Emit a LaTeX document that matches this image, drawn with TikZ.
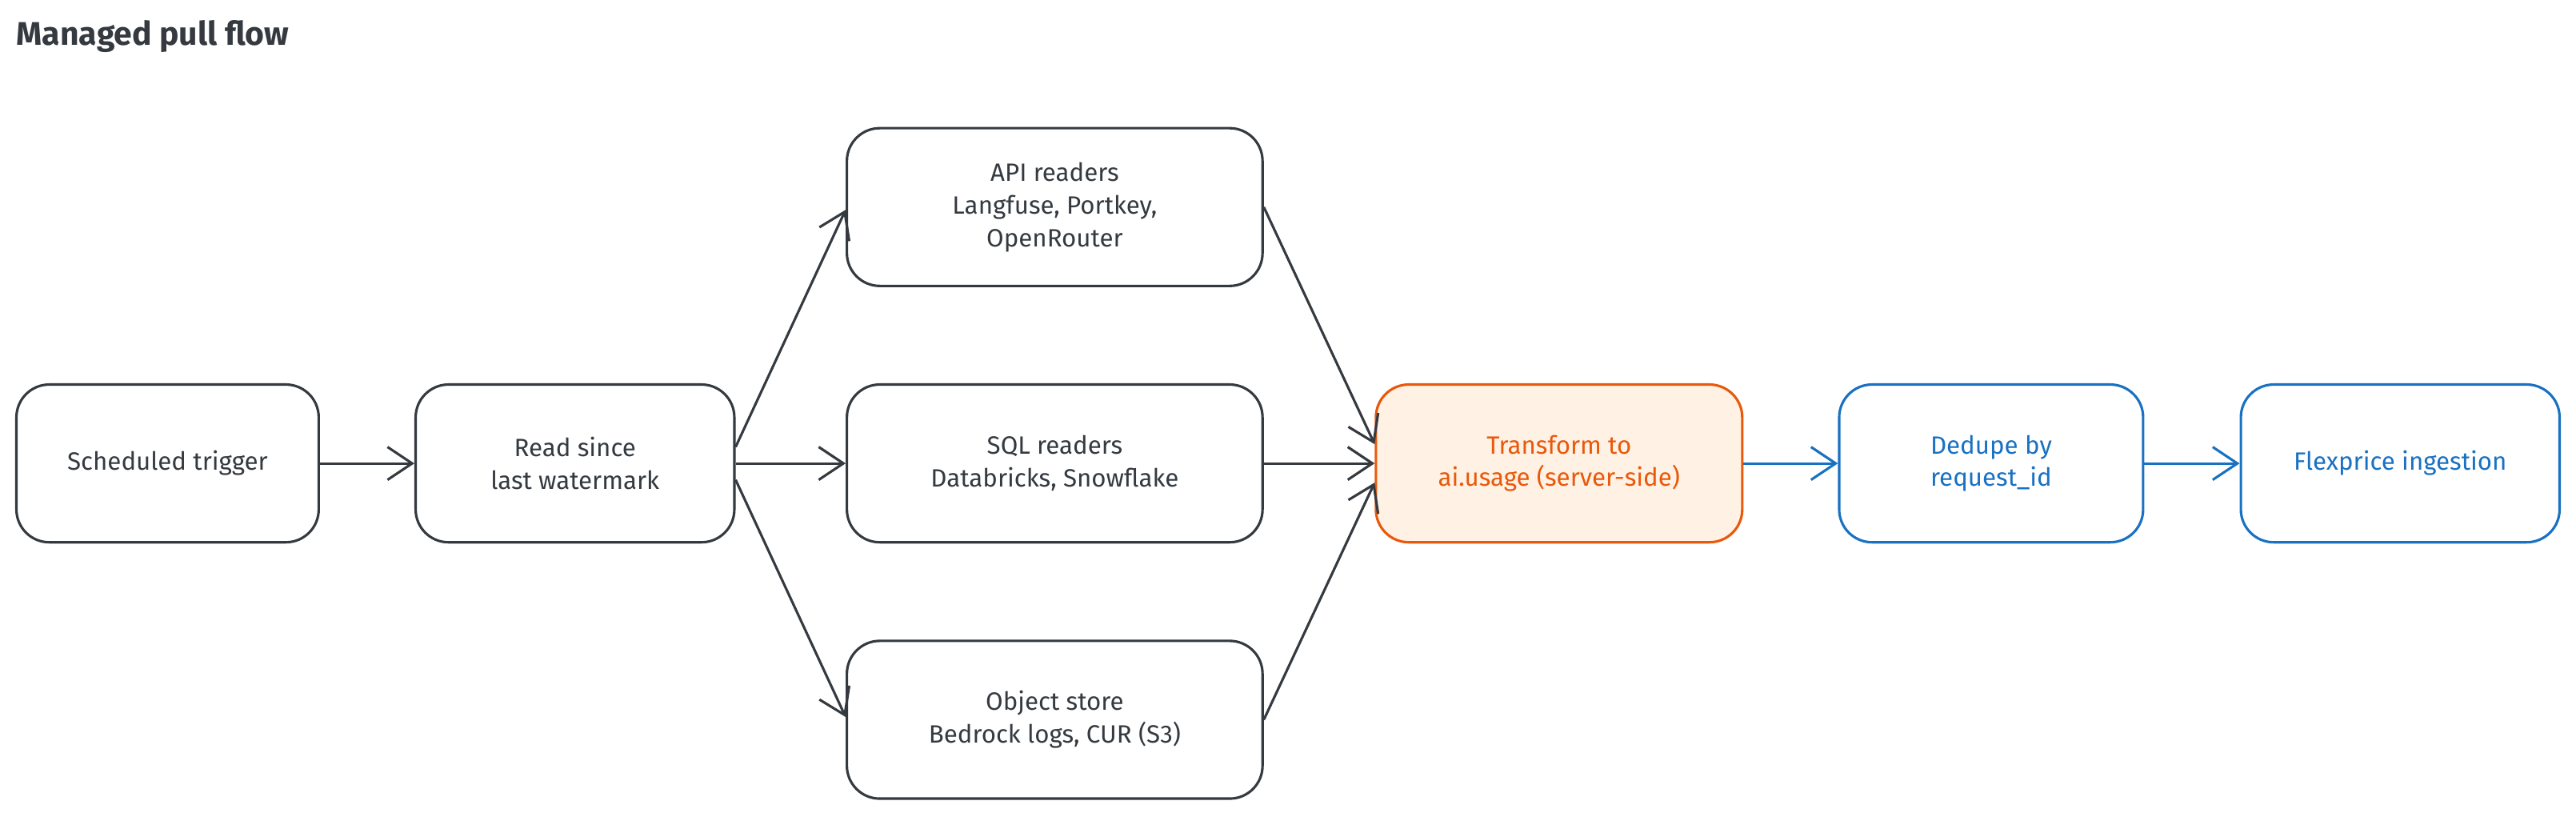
\documentclass[tikz,border=0pt]{standalone}
\usepackage{fontspec}
\setmainfont{Fira Sans}
\usetikzlibrary{arrows.meta}
\definecolor{ink}{HTML}{343A40}
\definecolor{orng}{HTML}{E8590C}
\definecolor{orngfill}{HTML}{FFF1E3}
\definecolor{blu}{HTML}{1971C2}
\tikzset{
  stage/.style={draw=ink, rounded corners=0.6cm, line width=1.3pt, align=center,
    text=ink, minimum height=2.88cm, font=\fontsize{13}{17}\selectfont},
  flow/.style={-{Straight Barb[length=0.45cm,width=0.6cm]}, line width=1.3pt, draw=ink},
}
\begin{document}
\begin{tikzpicture}[x=0.03cm, y=-0.03cm]
    \useasboundingbox (0,0) rectangle (1568,497);
    % Title
    \node[anchor=west, text=ink, font=\fontsize{17}{20}\selectfont\bfseries] (title) at (6,22) {Managed pull flow};

    % Pipeline stages
    \node[stage, minimum width=5.52cm] (trigger) at (102,282) {Scheduled trigger};
    \node[stage, minimum width=5.82cm] (read) at (350,282) {Read since\\last watermark};
    \node[stage, minimum width=7.59cm] (api) at (642,126) {API readers\\Langfuse, Portkey,\\OpenRouter};
    \node[stage, minimum width=7.59cm] (sql) at (642,282) {SQL readers\\Databricks, Snowflake};
    \node[stage, minimum width=7.59cm] (object) at (642,438) {Object store\\Bedrock logs, CUR (S3)};
    \node[stage, draw=orng, fill=orngfill, text=orng, minimum width=6.69cm] (transform) at (949,282) {Transform to\\ai.usage (server-side)};
    \node[stage, draw=blu, text=blu, minimum width=5.55cm] (dedupe) at (1212,282) {Dedupe by\\request\_id};
    \node[stage, draw=blu, text=blu, minimum width=5.82cm] (ingest) at (1461,282) {Flexprice ingestion};

    % Arrows
    \draw[flow] (trigger) -- (read);
    \draw[flow] ([yshift=0.3cm]read.east) -- ([yshift=-0.05cm]api.west);
    \draw[flow] (read) -- (sql);
    \draw[flow] ([yshift=-0.3cm]read.east) -- ([yshift=0.05cm]object.west);
    \draw[flow] (api.east) -- ([yshift=0.35cm]transform.west);
    \draw[flow] (sql) -- (transform);
    \draw[flow] (object.east) -- ([yshift=-0.35cm]transform.west);
    \draw[flow, draw=blu] (transform) -- (dedupe);
    \draw[flow, draw=blu] (dedupe) -- (ingest);
\end{tikzpicture}
\end{document}
